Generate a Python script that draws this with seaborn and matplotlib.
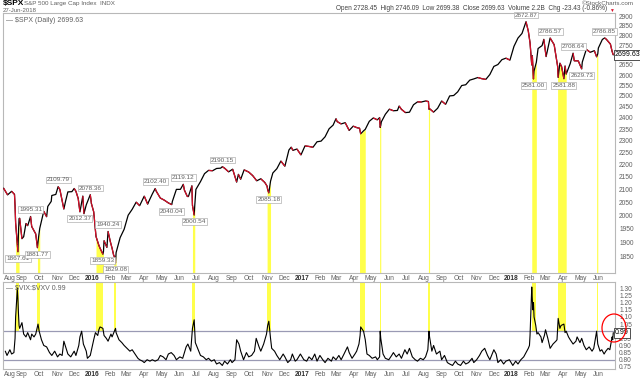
import numpy as np
import pandas as pd
import matplotlib
matplotlib.use("Agg")
import matplotlib.pyplot as plt
import matplotlib.dates as mdates
from matplotlib.collections import LineCollection
from matplotlib.patches import Ellipse
from matplotlib.ticker import FixedLocator, FixedFormatter, NullLocator
import seaborn as sns

# S&P 500 closes (date, close)
spx_points = [
    ("2015-07-31", 2103.84), ("2015-08-07", 2077.57), ("2015-08-14", 2091.54), ("2015-08-19", 2079.61),
    ("2015-08-20", 2035.73), ("2015-08-21", 1970.89), ("2015-08-24", 1893.21), ("2015-08-25", 1867.61),
    ("2015-08-26", 1940.51), ("2015-08-27", 1987.66), ("2015-08-28", 1988.87), ("2015-09-01", 1913.85),
    ("2015-09-04", 1921.22), ("2015-09-08", 1969.41), ("2015-09-11", 1961.05), ("2015-09-16", 1995.31),
    ("2015-09-18", 1958.03), ("2015-09-22", 1942.74), ("2015-09-25", 1931.34), ("2015-09-28", 1881.77),
    ("2015-09-30", 1920.03), ("2015-10-02", 1951.36), ("2015-10-07", 1995.83), ("2015-10-09", 2014.89),
    ("2015-10-14", 1994.24), ("2015-10-16", 2033.11), ("2015-10-22", 2052.51), ("2015-10-23", 2075.15),
    ("2015-10-30", 2079.36), ("2015-11-03", 2109.79), ("2015-11-06", 2099.20), ("2015-11-13", 2023.04),
    ("2015-11-16", 2053.19), ("2015-11-20", 2089.17), ("2015-11-27", 2090.11), ("2015-12-01", 2102.63),
    ("2015-12-04", 2091.69), ("2015-12-08", 2063.59), ("2015-12-11", 2012.37), ("2015-12-16", 2073.07),
    ("2015-12-18", 2005.55), ("2015-12-22", 2038.97), ("2015-12-29", 2078.36), ("2015-12-31", 2043.94),
    ("2016-01-04", 2012.66), ("2016-01-08", 1922.03), ("2016-01-13", 1890.28), ("2016-01-15", 1880.33),
    ("2016-01-20", 1859.33), ("2016-01-21", 1868.99), ("2016-01-22", 1906.90), ("2016-01-27", 1882.95),
    ("2016-01-29", 1940.24), ("2016-02-02", 1903.03), ("2016-02-05", 1880.05), ("2016-02-08", 1853.44),
    ("2016-02-09", 1852.21), ("2016-02-11", 1829.08), ("2016-02-12", 1864.78), ("2016-02-19", 1917.78),
    ("2016-02-26", 1948.05), ("2016-03-04", 1999.99), ("2016-03-11", 2022.19), ("2016-03-18", 2049.58),
    ("2016-03-24", 2035.94), ("2016-04-01", 2072.78), ("2016-04-07", 2041.91), ("2016-04-08", 2047.60),
    ("2016-04-15", 2080.73), ("2016-04-20", 2102.40), ("2016-04-22", 2091.58), ("2016-04-29", 2065.30),
    ("2016-05-06", 2057.14), ("2016-05-13", 2046.61), ("2016-05-19", 2040.04), ("2016-05-20", 2052.32),
    ("2016-05-27", 2099.06), ("2016-06-03", 2099.13), ("2016-06-08", 2119.12), ("2016-06-10", 2096.07),
    ("2016-06-15", 2071.50), ("2016-06-17", 2071.22), ("2016-06-23", 2113.32), ("2016-06-24", 2037.41),
    ("2016-06-27", 2000.54), ("2016-06-28", 2036.09), ("2016-06-30", 2098.86), ("2016-07-08", 2129.90),
    ("2016-07-15", 2161.74), ("2016-07-22", 2175.03), ("2016-07-29", 2173.60), ("2016-08-05", 2182.87),
    ("2016-08-12", 2184.05), ("2016-08-15", 2190.15), ("2016-08-19", 2183.87), ("2016-08-26", 2169.04),
    ("2016-09-02", 2179.98), ("2016-09-09", 2127.81), ("2016-09-12", 2159.04), ("2016-09-16", 2139.16),
    ("2016-09-22", 2177.18), ("2016-09-30", 2168.27), ("2016-10-07", 2153.74), ("2016-10-14", 2132.98),
    ("2016-10-21", 2141.16), ("2016-10-28", 2126.41), ("2016-11-01", 2111.72), ("2016-11-02", 2097.94),
    ("2016-11-04", 2085.18), ("2016-11-07", 2131.52), ("2016-11-08", 2139.56), ("2016-11-11", 2164.45),
    ("2016-11-18", 2181.90), ("2016-11-25", 2213.35), ("2016-12-02", 2191.95), ("2016-12-09", 2259.53),
    ("2016-12-13", 2271.72), ("2016-12-16", 2258.07), ("2016-12-23", 2263.79), ("2016-12-30", 2238.83),
    ("2017-01-06", 2276.98), ("2017-01-13", 2274.64), ("2017-01-20", 2271.31), ("2017-01-27", 2294.69),
    ("2017-02-03", 2297.42), ("2017-02-10", 2316.10), ("2017-02-17", 2351.16), ("2017-02-24", 2367.34),
    ("2017-03-01", 2395.96), ("2017-03-03", 2383.12), ("2017-03-10", 2372.60), ("2017-03-17", 2378.25),
    ("2017-03-24", 2343.98), ("2017-03-31", 2362.72), ("2017-04-07", 2355.54), ("2017-04-11", 2353.78),
    ("2017-04-13", 2328.95), ("2017-04-18", 2342.19), ("2017-04-21", 2348.69), ("2017-04-28", 2384.20),
    ("2017-05-05", 2399.29), ("2017-05-12", 2390.90), ("2017-05-16", 2400.67), ("2017-05-17", 2357.03),
    ("2017-05-18", 2365.72), ("2017-05-19", 2381.73), ("2017-05-26", 2415.82), ("2017-06-02", 2439.07),
    ("2017-06-09", 2431.77), ("2017-06-16", 2433.15), ("2017-06-19", 2453.46), ("2017-06-23", 2438.30),
    ("2017-06-30", 2423.41), ("2017-07-07", 2425.18), ("2017-07-14", 2459.27), ("2017-07-21", 2472.54),
    ("2017-07-28", 2472.10), ("2017-08-04", 2476.83), ("2017-08-09", 2474.02), ("2017-08-10", 2438.21),
    ("2017-08-11", 2441.32), ("2017-08-18", 2425.55), ("2017-08-25", 2443.05), ("2017-09-01", 2476.55),
    ("2017-09-08", 2461.43), ("2017-09-15", 2500.23), ("2017-09-22", 2502.22), ("2017-09-29", 2519.36),
    ("2017-10-06", 2549.33), ("2017-10-13", 2553.17), ("2017-10-20", 2575.21), ("2017-10-27", 2581.07),
    ("2017-11-03", 2587.84), ("2017-11-10", 2582.30), ("2017-11-17", 2578.85), ("2017-11-24", 2602.42),
    ("2017-12-01", 2642.22), ("2017-12-08", 2651.50), ("2017-12-15", 2675.81), ("2017-12-22", 2683.34),
    ("2017-12-29", 2673.61), ("2018-01-05", 2743.15), ("2018-01-12", 2786.24), ("2018-01-19", 2810.30),
    ("2018-01-26", 2872.87), ("2018-01-30", 2822.43), ("2018-02-02", 2762.13), ("2018-02-05", 2648.94),
    ("2018-02-06", 2695.14), ("2018-02-08", 2581.00), ("2018-02-09", 2619.55), ("2018-02-13", 2662.94),
    ("2018-02-16", 2732.22), ("2018-02-23", 2747.30), ("2018-02-26", 2779.60), ("2018-03-02", 2691.25),
    ("2018-03-09", 2786.57), ("2018-03-16", 2752.01), ("2018-03-22", 2643.69), ("2018-03-23", 2588.26),
    ("2018-03-26", 2658.55), ("2018-03-29", 2640.87), ("2018-04-02", 2581.88), ("2018-04-04", 2644.69),
    ("2018-04-06", 2604.47), ("2018-04-13", 2656.30), ("2018-04-18", 2708.64), ("2018-04-20", 2670.14),
    ("2018-04-27", 2669.91), ("2018-05-03", 2629.73), ("2018-05-04", 2663.42), ("2018-05-11", 2727.72),
    ("2018-05-18", 2712.97), ("2018-05-25", 2721.33), ("2018-05-29", 2689.86), ("2018-05-31", 2705.27),
    ("2018-06-01", 2734.62), ("2018-06-08", 2779.03), ("2018-06-12", 2786.85), ("2018-06-15", 2779.66),
    ("2018-06-22", 2754.88), ("2018-06-25", 2717.07), ("2018-06-27", 2699.63),
]

# VIX:VXV ratio (date, value)
ratio_points = [
    ("2015-08-03", 0.86), ("2015-08-06", 0.83), ("2015-08-11", 0.87), ("2015-08-14", 0.84), ("2015-08-18", 0.85),
    ("2015-08-20", 0.95), ("2015-08-21", 1.10), ("2015-08-24", 1.30), ("2015-08-25", 1.22), ("2015-08-26", 1.12),
    ("2015-08-27", 1.04), ("2015-08-28", 1.02), ("2015-09-01", 1.06), ("2015-09-04", 0.98), ("2015-09-08", 0.96),
    ("2015-09-11", 0.99), ("2015-09-16", 0.94), ("2015-09-18", 0.98), ("2015-09-22", 0.96), ("2015-09-25", 0.98),
    ("2015-09-29", 1.05), ("2015-10-01", 1.00), ("2015-10-05", 0.94), ("2015-10-09", 0.90), ("2015-10-14", 0.89),
    ("2015-10-19", 0.85), ("2015-10-23", 0.83), ("2015-10-28", 0.86), ("2015-11-02", 0.82), ("2015-11-06", 0.84),
    ("2015-11-10", 0.83), ("2015-11-13", 0.93), ("2015-11-17", 0.88), ("2015-11-20", 0.84), ("2015-11-25", 0.82),
    ("2015-12-01", 0.86), ("2015-12-04", 0.83), ("2015-12-09", 0.90), ("2015-12-11", 0.96), ("2015-12-14", 1.00),
    ("2015-12-17", 0.91), ("2015-12-22", 0.86), ("2015-12-24", 0.81), ("2015-12-29", 0.83), ("2016-01-04", 0.94),
    ("2016-01-07", 0.99), ("2016-01-11", 0.97), ("2016-01-13", 1.01), ("2016-01-15", 1.03), ("2016-01-20", 1.02),
    ("2016-01-22", 0.97), ("2016-01-26", 0.95), ("2016-01-29", 0.93), ("2016-02-03", 0.98), ("2016-02-05", 0.96),
    ("2016-02-09", 1.00), ("2016-02-11", 1.02), ("2016-02-12", 0.99), ("2016-02-17", 0.94), ("2016-02-22", 0.92),
    ("2016-02-26", 0.90), ("2016-03-02", 0.88), ("2016-03-07", 0.86), ("2016-03-11", 0.87), ("2016-03-16", 0.84),
    ("2016-03-21", 0.81), ("2016-03-24", 0.80), ("2016-03-29", 0.79), ("2016-04-01", 0.78), ("2016-04-06", 0.80),
    ("2016-04-11", 0.79), ("2016-04-15", 0.80), ("2016-04-20", 0.79), ("2016-04-25", 0.80), ("2016-04-29", 0.83),
    ("2016-05-04", 0.82), ("2016-05-09", 0.80), ("2016-05-13", 0.84), ("2016-05-18", 0.85), ("2016-05-23", 0.83),
    ("2016-05-27", 0.80), ("2016-06-02", 0.82), ("2016-06-07", 0.81), ("2016-06-10", 0.85), ("2016-06-13", 0.89),
    ("2016-06-16", 0.91), ("2016-06-21", 0.86), ("2016-06-24", 1.02), ("2016-06-27", 1.08), ("2016-06-29", 0.92),
    ("2016-07-05", 0.86), ("2016-07-08", 0.83), ("2016-07-13", 0.82), ("2016-07-18", 0.80), ("2016-07-22", 0.81),
    ("2016-07-27", 0.79), ("2016-08-01", 0.80), ("2016-08-05", 0.77), ("2016-08-10", 0.78), ("2016-08-15", 0.76),
    ("2016-08-19", 0.79), ("2016-08-24", 0.77), ("2016-08-29", 0.80), ("2016-09-01", 0.78), ("2016-09-06", 0.80),
    ("2016-09-09", 0.94), ("2016-09-13", 0.91), ("2016-09-16", 0.86), ("2016-09-21", 0.80), ("2016-09-26", 0.85),
    ("2016-09-30", 0.82), ("2016-10-05", 0.83), ("2016-10-10", 0.86), ("2016-10-13", 0.95), ("2016-10-18", 0.89),
    ("2016-10-21", 0.86), ("2016-10-26", 0.91), ("2016-10-31", 0.98), ("2016-11-02", 1.04), ("2016-11-04", 1.07),
    ("2016-11-07", 0.95), ("2016-11-09", 0.88), ("2016-11-14", 0.86), ("2016-11-18", 0.83), ("2016-11-23", 0.80),
    ("2016-11-29", 0.84), ("2016-12-02", 0.82), ("2016-12-07", 0.78), ("2016-12-12", 0.80), ("2016-12-15", 0.84),
    ("2016-12-20", 0.79), ("2016-12-23", 0.80), ("2016-12-29", 0.84), ("2017-01-04", 0.80), ("2017-01-09", 0.79),
    ("2017-01-13", 0.82), ("2017-01-18", 0.80), ("2017-01-23", 0.84), ("2017-01-27", 0.79), ("2017-02-01", 0.83),
    ("2017-02-06", 0.80), ("2017-02-10", 0.78), ("2017-02-15", 0.81), ("2017-02-21", 0.79), ("2017-02-24", 0.82),
    ("2017-03-01", 0.80), ("2017-03-06", 0.83), ("2017-03-10", 0.80), ("2017-03-15", 0.84), ("2017-03-21", 0.89),
    ("2017-03-24", 0.85), ("2017-03-29", 0.81), ("2017-04-03", 0.84), ("2017-04-06", 0.86), ("2017-04-10", 0.91),
    ("2017-04-12", 0.97), ("2017-04-13", 1.03), ("2017-04-18", 1.00), ("2017-04-21", 0.94), ("2017-04-24", 0.84),
    ("2017-04-28", 0.83), ("2017-05-03", 0.81), ("2017-05-09", 0.82), ("2017-05-12", 0.80), ("2017-05-16", 0.82),
    ("2017-05-17", 1.00), ("2017-05-18", 0.95), ("2017-05-22", 0.84), ("2017-05-26", 0.81), ("2017-06-01", 0.80),
    ("2017-06-06", 0.83), ("2017-06-09", 0.85), ("2017-06-14", 0.82), ("2017-06-19", 0.84), ("2017-06-23", 0.81),
    ("2017-06-29", 0.87), ("2017-07-03", 0.84), ("2017-07-07", 0.88), ("2017-07-12", 0.82), ("2017-07-17", 0.80),
    ("2017-07-21", 0.79), ("2017-07-26", 0.81), ("2017-07-31", 0.80), ("2017-08-04", 0.82), ("2017-08-08", 0.87),
    ("2017-08-10", 1.00), ("2017-08-11", 0.96), ("2017-08-15", 0.86), ("2017-08-18", 0.90), ("2017-08-23", 0.84),
    ("2017-08-29", 0.86), ("2017-09-01", 0.80), ("2017-09-06", 0.83), ("2017-09-11", 0.78), ("2017-09-15", 0.77),
    ("2017-09-20", 0.76), ("2017-09-25", 0.79), ("2017-09-29", 0.77), ("2017-10-04", 0.76), ("2017-10-09", 0.79),
    ("2017-10-13", 0.77), ("2017-10-18", 0.78), ("2017-10-24", 0.81), ("2017-10-27", 0.78), ("2017-11-01", 0.80),
    ("2017-11-06", 0.83), ("2017-11-10", 0.86), ("2017-11-15", 0.88), ("2017-11-20", 0.83), ("2017-11-24", 0.80),
    ("2017-11-29", 0.85), ("2017-12-01", 0.87), ("2017-12-05", 0.84), ("2017-12-08", 0.78), ("2017-12-13", 0.80),
    ("2017-12-18", 0.77), ("2017-12-22", 0.79), ("2017-12-28", 0.80), ("2018-01-03", 0.76), ("2018-01-08", 0.79),
    ("2018-01-12", 0.77), ("2018-01-17", 0.80), ("2018-01-22", 0.82), ("2018-01-26", 0.85), ("2018-01-30", 0.88),
    ("2018-02-01", 0.90), ("2018-02-02", 0.97), ("2018-02-05", 1.31), ("2018-02-06", 1.22), ("2018-02-07", 1.15),
    ("2018-02-08", 1.20), ("2018-02-09", 1.10), ("2018-02-12", 1.04), ("2018-02-14", 0.98), ("2018-02-16", 0.99),
    ("2018-02-21", 0.96), ("2018-02-23", 0.92), ("2018-02-27", 0.97), ("2018-03-01", 1.01), ("2018-03-05", 0.95),
    ("2018-03-09", 0.88), ("2018-03-14", 0.91), ("2018-03-19", 0.93), ("2018-03-21", 0.94), ("2018-03-22", 1.02),
    ("2018-03-23", 1.09), ("2018-03-26", 1.02), ("2018-03-28", 1.04), ("2018-04-02", 1.05), ("2018-04-04", 0.99),
    ("2018-04-06", 1.00), ("2018-04-10", 0.96), ("2018-04-13", 0.94), ("2018-04-18", 0.91), ("2018-04-23", 0.93),
    ("2018-04-25", 0.96), ("2018-04-30", 0.92), ("2018-05-03", 0.95), ("2018-05-07", 0.90), ("2018-05-11", 0.87),
    ("2018-05-16", 0.89), ("2018-05-21", 0.86), ("2018-05-24", 0.88), ("2018-05-29", 1.00), ("2018-05-31", 0.91),
    ("2018-06-04", 0.86), ("2018-06-07", 0.87), ("2018-06-11", 0.84), ("2018-06-14", 0.86), ("2018-06-18", 0.88),
    ("2018-06-21", 0.87), ("2018-06-25", 0.96), ("2018-06-26", 0.94), ("2018-06-27", 0.99),
]

# periods where VIX:VXV > 1 (yellow bands)
band_start = ["2015-08-21", "2015-09-28", "2016-01-08", "2016-02-08", "2016-06-24", "2016-11-01",
              "2017-04-11", "2017-05-16", "2017-08-09", "2018-02-05", "2018-03-22", "2018-05-29"]
band_end = ["2015-08-27", "2015-10-02", "2016-01-21", "2016-02-12", "2016-06-28", "2016-11-07",
            "2017-04-21", "2017-05-18", "2017-08-11", "2018-02-13", "2018-04-06", "2018-05-31"]

# labelled swing points
peak_dates = ["2015-09-16", "2015-11-03", "2015-12-29", "2016-01-29", "2016-04-20", "2016-06-08",
              "2016-08-15", "2018-01-26", "2018-03-09", "2018-04-18", "2018-06-12"]
trough_dates = ["2015-08-25", "2015-09-28", "2015-12-11", "2016-01-20", "2016-02-11", "2016-05-19",
                "2016-06-27", "2016-11-04", "2018-02-08", "2018-04-02", "2018-05-03"]

price_ticks = [1850, 1900, 1950, 2000, 2050, 2100, 2150, 2200, 2250, 2300, 2350, 2400, 2450,
               2500, 2550, 2600, 2650, 2700, 2750, 2800, 2850, 2900]
ratio_ticks = [0.75, 0.80, 0.85, 0.90, 0.95, 1.00, 1.05, 1.10, 1.15, 1.20, 1.25, 1.30]
ratio_levels = [1.00, 0.80]
threshold = 1.00

spx_dt = pd.to_datetime([d for d, _ in spx_points])
spx = np.array([v for _, v in spx_points])
ratio_dt = pd.to_datetime([d for d, _ in ratio_points])
ratio = np.array([v for _, v in ratio_points])

sns.set_theme(style="white")
plt.rcParams["font.family"] = ["Liberation Sans", "DejaVu Sans"]

W, H = 640, 380
fig = plt.figure(figsize=(6.4, 3.8), dpi=100)
ax1 = fig.add_axes([3 / W, 1 - 273 / H, 612 / W, 260 / H])
ax2 = fig.add_axes([3 / W, 1 - 369 / H, 612 / W, 87 / H], sharex=ax1)

YELLOW = "#ffff4a"
EDGE = "#b8b8b8"
TXT = "#606060"

# ---- upper panel: price
p_lo, p_hi = 1795, 2920
ax1.set_yscale("log")
ax1.set_ylim(p_lo, p_hi)
for s, e in zip(pd.to_datetime(band_start), pd.to_datetime(band_end)):
    m = (spx_dt >= s) & (spx_dt <= e)
    ax1.fill_between(spx_dt[m], p_lo, spx[m], color=YELLOW, lw=0, zorder=1)

sns.lineplot(x=spx_dt, y=spx, ax=ax1, color="black", lw=0.9, zorder=3)
xs = mdates.date2num(spx_dt.to_pydatetime())
pts = np.column_stack([xs, spx])
segs = np.stack([pts[:-1], pts[1:]], axis=1)
down = spx[1:] < spx[:-1]
ax1.add_collection(LineCollection(segs[down], colors="#d8102a", lw=0.9, zorder=4))

box = dict(boxstyle="square,pad=0.15", fc="white", ec="#b0b0b0", lw=0.5)
for d in peak_dates:
    v = spx[spx_dt == pd.Timestamp(d)][0]
    ax1.annotate(f"{v:.2f}", (pd.Timestamp(d), v), xytext=(0, 3), textcoords="offset points",
                 ha="center", va="bottom", fontsize=4.6, color=TXT, bbox=box, zorder=6)
for d in trough_dates:
    v = spx[spx_dt == pd.Timestamp(d)][0]
    ax1.annotate(f"{v:.2f}", (pd.Timestamp(d), v), xytext=(0, -3), textcoords="offset points",
                 ha="center", va="top", fontsize=4.6, color=TXT, bbox=box, zorder=6)

# the last-value box hides the tick label it sits on
last_p = spx[-1]
ax1.yaxis.set_major_locator(FixedLocator(price_ticks))
ax1.yaxis.set_major_formatter(FixedFormatter(
    ["" if abs(t - last_p) < 15 else str(t) for t in price_ticks]))
ax1.yaxis.set_minor_locator(NullLocator())
ax1.text(1.0, last_p, f"{last_p:.2f}", transform=ax1.get_yaxis_transform(), ha="left", va="center",
         fontsize=5, color="black", zorder=7, clip_on=False,
         bbox=dict(boxstyle="square,pad=0.2", fc="white", ec="#333333", lw=0.6))
ax1.text(0.005, 0.985, "\u2014 \\$SPX (Daily) 2699.63", transform=ax1.transAxes, ha="left", va="top",
         fontsize=5, color=TXT)

# ---- lower panel: VIX:VXV
r_lo, r_hi = 0.735, 1.345
ax2.set_ylim(r_lo, r_hi)
for s, e in zip(pd.to_datetime(band_start), pd.to_datetime(band_end)):
    ax2.fill_between([s, e], threshold, r_hi, color=YELLOW, lw=0, zorder=1)
for lv in ratio_levels:
    ax2.axhline(lv, color="#9a9ab4", lw=0.9, zorder=2)
sns.lineplot(x=ratio_dt, y=ratio, ax=ax2, color="black", lw=0.8, zorder=3)
last_r = ratio[-1]
ax2.yaxis.set_major_locator(FixedLocator(ratio_ticks))
ax2.yaxis.set_major_formatter(FixedFormatter(
    ["" if abs(t - last_r) < 0.02 else f"{t:.2f}" for t in ratio_ticks]))
ax2.text(1.0, last_r, f"{last_r:.2f}", transform=ax2.get_yaxis_transform(), ha="left", va="center",
         fontsize=5, color="black", zorder=7, clip_on=False,
         bbox=dict(boxstyle="square,pad=0.2", fc="white", ec="#333333", lw=0.6))
ax2.text(0.005, 0.975, "\u2014 \\$VIX:\\$VXV 0.99", transform=ax2.transAxes, ha="left", va="top",
         fontsize=5, color=TXT)

# ---- shared styling
months = pd.date_range("2015-08-01", "2018-06-01", freq="MS")
mlabels = [str(m.year) if m.month == 1 else m.strftime("%b") for m in months]
ax1.set_xlim(pd.Timestamp("2015-07-30"), pd.Timestamp("2018-06-30"))
for ax in (ax1, ax2):
    ax.set_xticks(months)
    ax.set_xticklabels(mlabels)
    ax.tick_params(axis="x", which="both", length=0, pad=1.5, labelsize=4.8, colors=TXT, labelbottom=True)
    labs = ax.get_xticklabels()
    labs[0].set_horizontalalignment("left")
    for lab in labs:
        if lab.get_text().isdigit():
            lab.set_fontweight("bold")
            lab.set_color("#303030")
    ax.yaxis.tick_right()
    ax.tick_params(axis="y", which="both", length=0, pad=3, labelsize=4.8, colors=TXT)
    ax.set_xlabel("")
    ax.set_ylabel("")
    ax.grid(False)
    for sp in ax.spines.values():
        sp.set_color(EDGE)
        sp.set_linewidth(0.8)

# header
fig.text(3 / W, 1 - 0.5 / H, "\\$SPX", ha="left", va="top", fontsize=6, fontweight="bold", color="black")
fig.text(24 / W, 1 - 1.5 / H, "S&P 500 Large Cap Index  INDX", ha="left", va="top", fontsize=4.5, color=TXT)
fig.text(3 / W, 1 - 12.5 / H, "27-Jun-2018", ha="left", va="bottom", fontsize=4.3, color=TXT)
fig.text(634 / W, 1 - 1 / H, "\u00a9StockCharts.com", ha="right", va="top", fontsize=4.5, color=TXT)
fig.text(607 / W, 1 - 12.5 / H,
         "Open 2728.45  High 2746.09  Low 2699.38  Close 2699.63  Volume 2.2B  Chg -23.43 (-0.86%)",
         ha="right", va="bottom", fontsize=4.7, color="#404040")
fig.text(609 / W, 1 - 12.5 / H, "\u25bc", ha="left", va="bottom", fontsize=3.5, color="#d8102a")

# red circle around latest reading
fig.add_artist(Ellipse((614 / W, 1 - 328 / H), 24 / W, 28 / H, transform=fig.transFigure,
                       fill=False, ec="red", lw=0.9))

fig.savefig("out.png", dpi=100)
